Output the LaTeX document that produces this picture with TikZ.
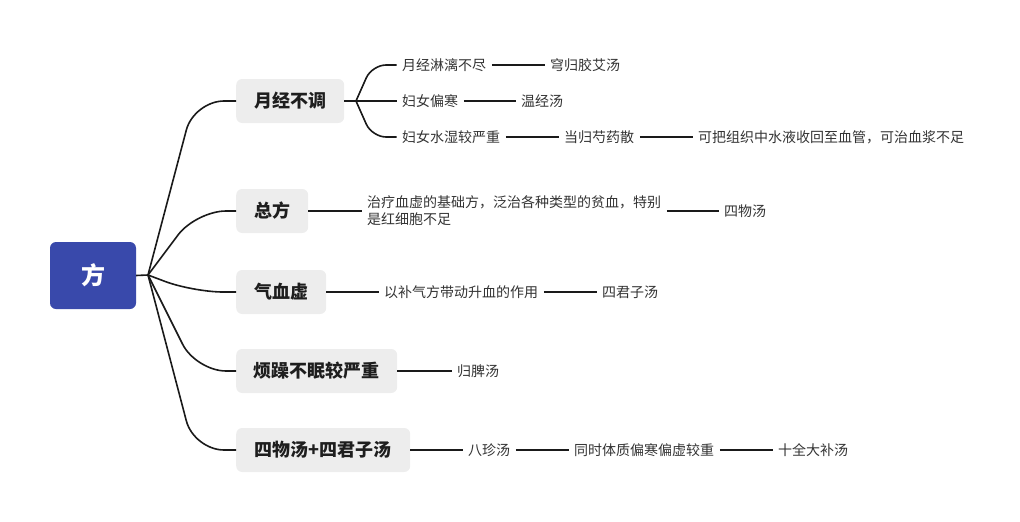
\documentclass[tikz,border=0pt]{standalone}
\usepackage{fontspec}
\setmainfont{Noto Sans CJK SC}
\definecolor{rootc}{RGB}{57,73,171}
\definecolor{boxc}{RGB}{237,237,237}
\definecolor{linec}{RGB}{26,26,26}
\definecolor{textc}{RGB}{30,30,30}
\definecolor{leafc}{RGB}{51,51,51}
\begin{document}
\begin{tikzpicture}[x=1pt,y=-1pt,
  link/.style={line width=1.6pt, draw=linec},
  conn/.style={line width=1.6pt, draw=linec, rounded corners=30pt},
  subconn/.style={line width=1.6pt, draw=linec, rounded corners=14pt},
  rootbox/.style={fill=rootc, rounded corners=6pt, minimum width=86pt, minimum height=67pt, text=white, font=\bfseries\fontsize{24}{28}\selectfont, inner sep=0pt},
  branch/.style={fill=boxc, rounded corners=6pt, minimum height=44pt, inner xsep=0pt, inner ysep=0pt, font=\bfseries\fontsize{18}{21}\selectfont, text=textc, anchor=west},
  leaf/.style={inner xsep=5.5pt, inner ysep=2pt, font=\fontsize{14}{17}\selectfont, text=leafc, anchor=west},
]
\useasboundingbox (0,0) rectangle (1020,522);

\node[rootbox] (root) at (93,275.5) {方};
\coordinate (J) at (148,275);

\node[branch, minimum width=108pt] (m1) at (236,101) {月经不调};
\node[branch, minimum width=72pt] (m2) at (236,211) {总方};
\node[branch, minimum width=90pt] (m3) at (236,292) {气血虚};
\node[branch, minimum width=161pt] (m4) at (236,371) {烦躁不眠较严重};
\node[branch, minimum width=174pt] (m5) at (236,450) {四物汤+四君子汤};

\draw[link] (root.east) -- (J);
\draw[conn] (J) -- (194,101) -- (m1.west);
\draw[conn] (J) -- (196,211) -- (m2.west);
\draw[conn] (J) -- (193,292) -- (m3.west);
\draw[conn] (J) -- (196,371) -- (m4.west);
\draw[conn] (J) -- (194,450) -- (m5.west);

% branch 1
\coordinate (K) at (356,101);
\node[leaf] (a1) at (396.5,65) {月经淋漓不尽};
\node[leaf] (a1b) at (544.5,65) {穹归胶艾汤};
\node[leaf] (a2) at (396.5,101) {妇女偏寒};
\node[leaf] (a2b) at (515.5,101) {温经汤};
\node[leaf] (a3) at (396.5,137) {妇女水湿较严重};
\node[leaf] (a3b) at (558.5,137) {当归芍药散};
\node[leaf] (a3c) at (692.5,137) {可把组织中水液收回至血管，可治血浆不足};
\draw[link] (m1.east) -- (K);
\draw[subconn] (K) -- (372,65) -- (a1.west);
\draw[link] (K) -- (a2.west);
\draw[subconn] (K) -- (372,137) -- (a3.west);
\draw[link] (a1.east) -- (a1b.west);
\draw[link] (a2.east) -- (a2b.west);
\draw[link] (a3.east) -- (a3b.west);
\draw[link] (a3b.east) -- (a3c.west);

% branch 2
\node[leaf, align=left] (b1) at (361.5,211) {治疗血虚的基础方，泛治各种类型的贫血，特别\\是红细胞不足};
\node[leaf] (b2) at (718.5,211) {四物汤};
\draw[link] (m2.east) -- (b1.west);
\draw[link] (b1.east) -- (b2.west);

% branch 3
\node[leaf] (c1) at (378.5,292) {以补气方带动升血的作用};
\node[leaf] (c2) at (596.5,292) {四君子汤};
\draw[link] (m3.east) -- (c1.west);
\draw[link] (c1.east) -- (c2.west);

% branch 4
\node[leaf] (d1) at (451.5,371) {归脾汤};
\draw[link] (m4.east) -- (d1.west);

% branch 5
\node[leaf] (e1) at (462.5,450) {八珍汤};
\node[leaf] (e2) at (568.5,450) {同时体质偏寒偏虚较重};
\node[leaf] (e3) at (772.5,450) {十全大补汤};
\draw[link] (m5.east) -- (e1.west);
\draw[link] (e1.east) -- (e2.west);
\draw[link] (e2.east) -- (e3.west);
\end{tikzpicture}
\end{document}
